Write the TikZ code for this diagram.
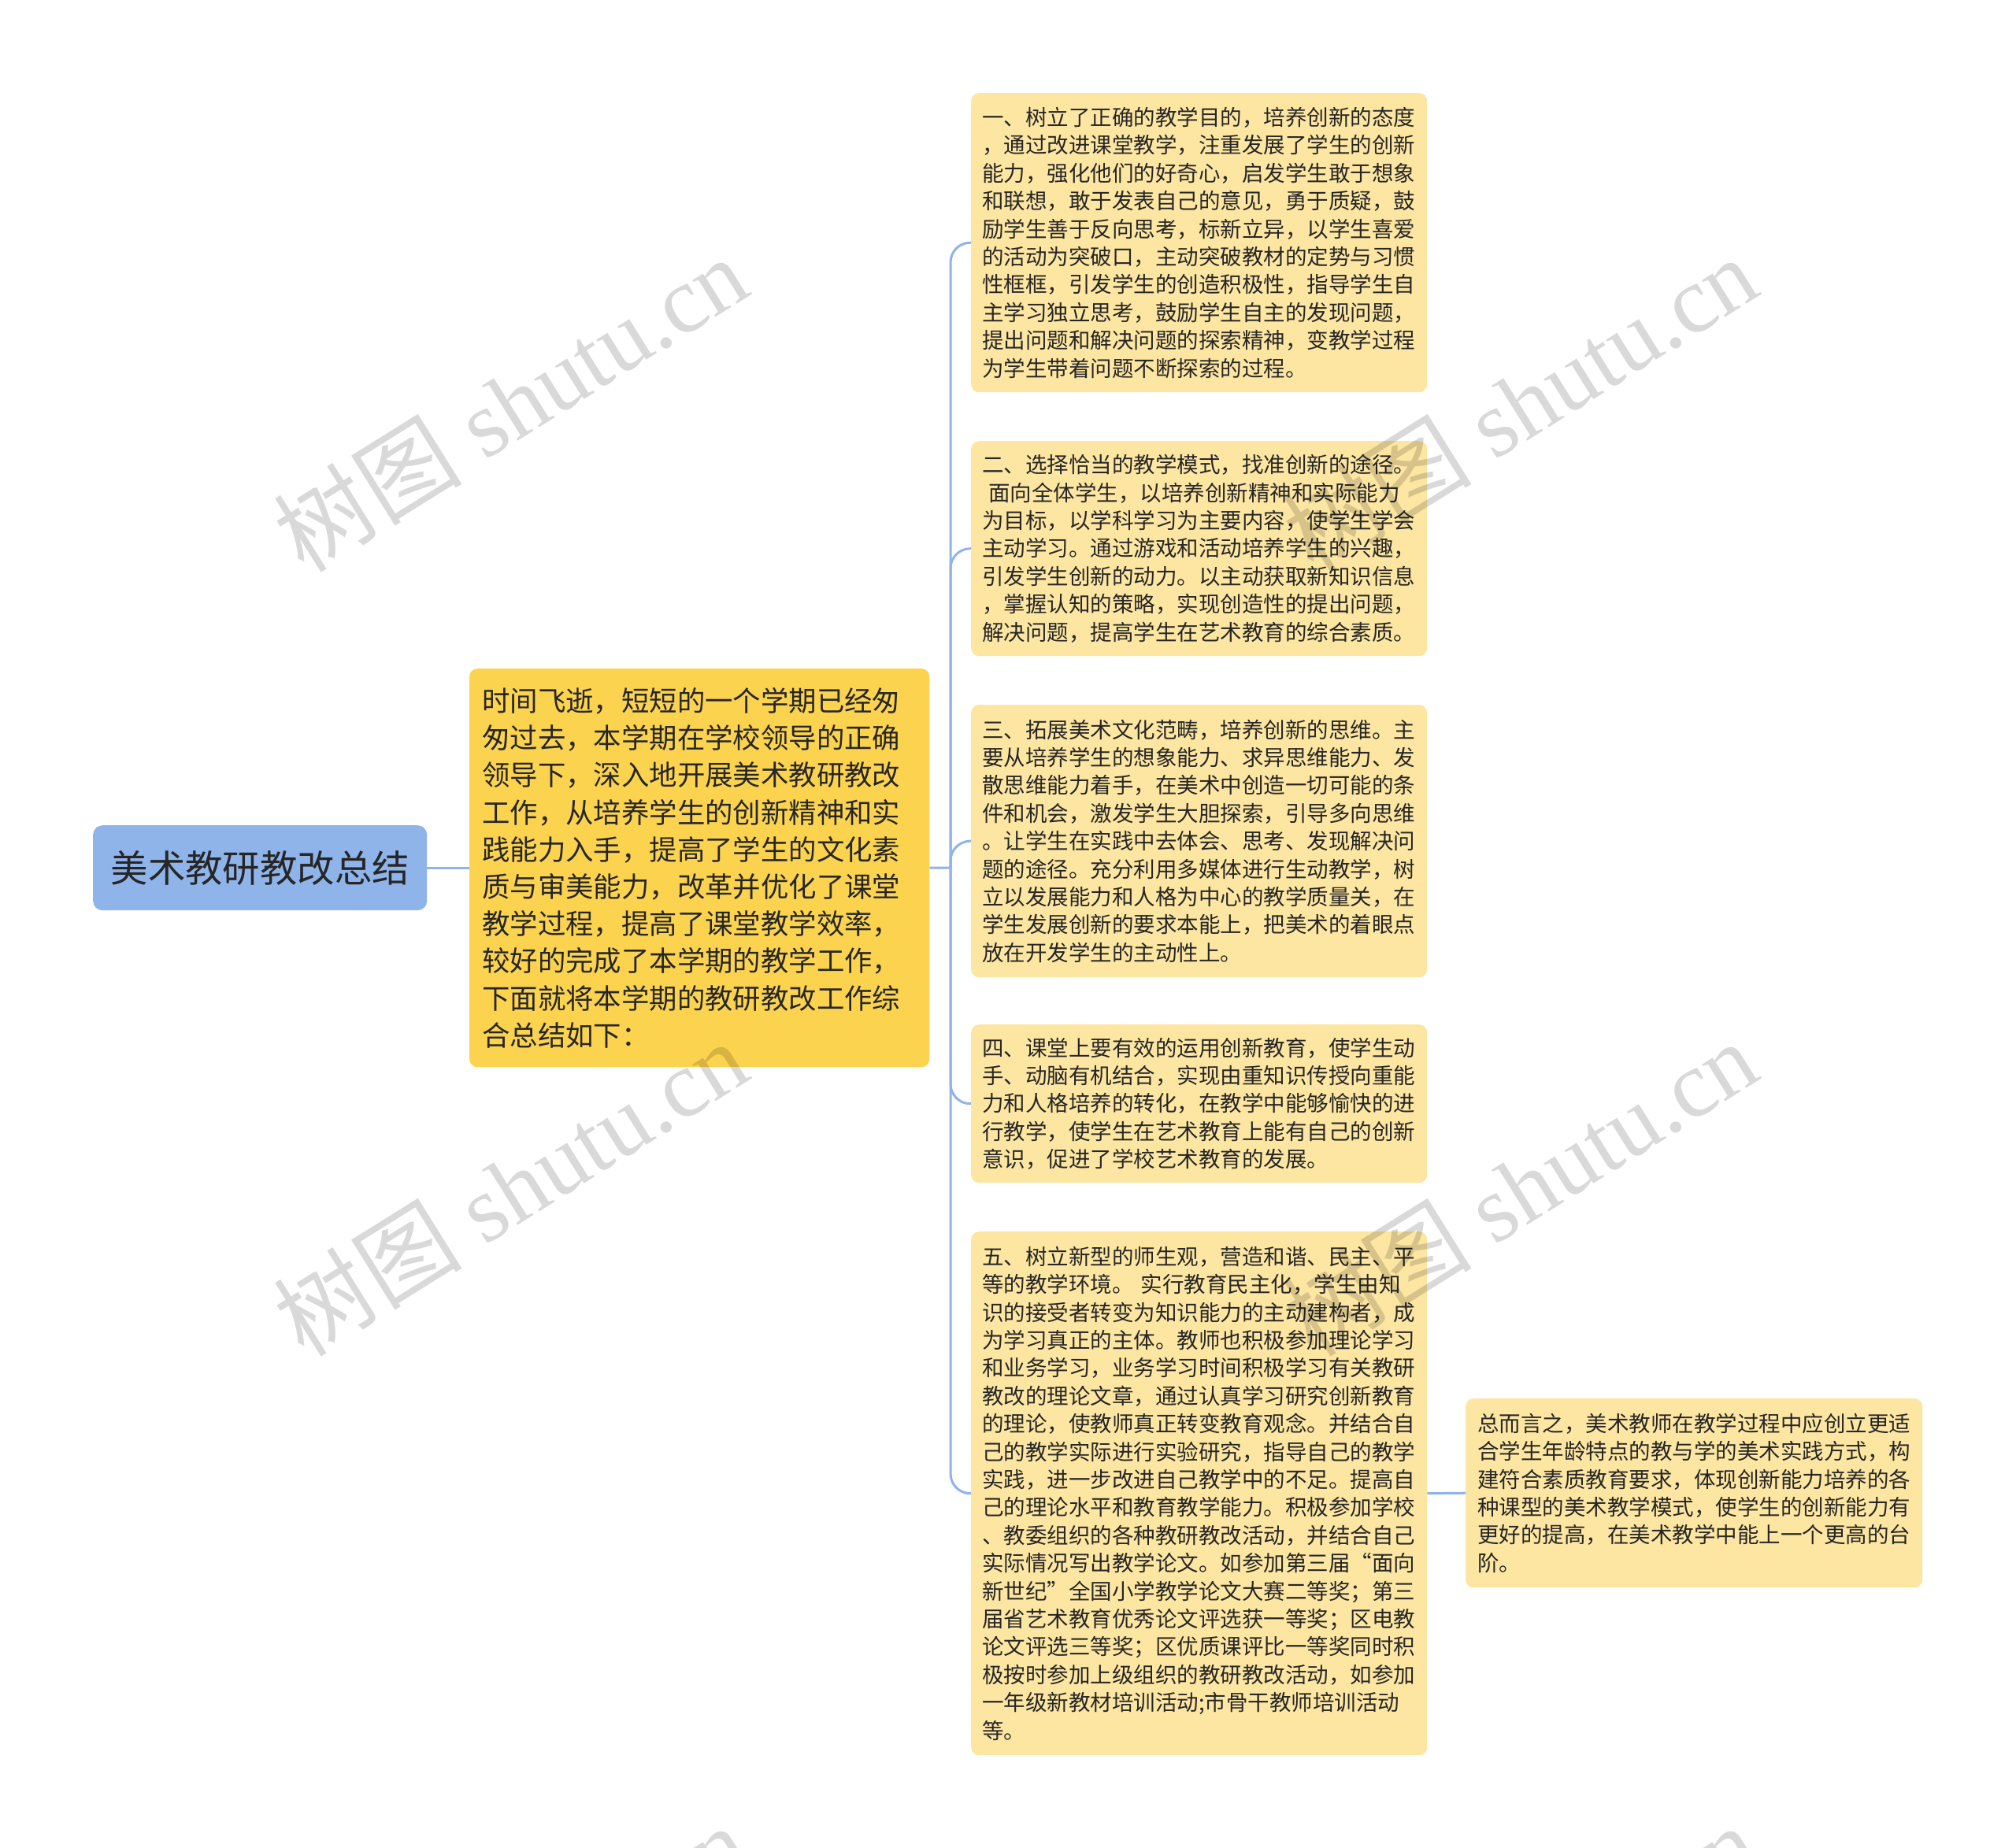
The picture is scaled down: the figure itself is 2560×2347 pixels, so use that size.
\documentclass[tikz,border=0pt]{standalone}
\usepackage{fontspec}
\setmainfont{Noto Sans CJK SC}
\newfontfamily\wmlat{Liberation Serif}
\newfontfamily\wmcjk{Noto Sans CJK SC}
\definecolor{rootc}{HTML}{8EB4EA}
\definecolor{centc}{HTML}{FCD34F}
\definecolor{leafc}{HTML}{FDE6A2}
\definecolor{linec}{HTML}{90B3E8}
\definecolor{txtc}{HTML}{262626}
\begin{document}
\begin{tikzpicture}[x=1pt,y=-1pt,
  rootbox/.style={fill=rootc, rounded corners=12, anchor=north west, minimum width=424, minimum height=108, inner sep=0, text=txtc, font=\fontsize{47.4}{56}\selectfont},
  centbox/.style={fill=centc, rounded corners=10, anchor=north west, minimum width=584, minimum height=506, inner xsep=16, inner ysep=4, text width=552, align=left, text=txtc, font=\fontsize{35.4}{47.2}\selectfont},
  leafbox/.style={fill=leafc, rounded corners=10, anchor=north west, inner xsep=14, inner ysep=4, text width=551, align=left, text=txtc, font=\fontsize{27.5}{35.4}\selectfont},
  conn/.style={draw=linec, line width=3pt},
  wm/.style={rotate=32, text=black, text opacity=0.15, inner sep=0}
]
\useasboundingbox (0,0) rectangle (2560,2347);
\fill[white] (0,0) rectangle (2560,2347);

\node[rootbox] (root) at (118,1048) {美术教研教改总结};

\node[centbox] (cent) at (596,849) {时间飞逝，短短的一个学期已经匆\\
匆过去，本学期在学校领导的正确\\
领导下，深入地开展美术教研教改\\
工作，从培养学生的创新精神和实\\
践能力入手，提高了学生的文化素\\
质与审美能力，改革并优化了课堂\\
教学过程，提高了课堂教学效率，\\
较好的完成了本学期的教学工作，\\
下面就将本学期的教研教改工作综\\
合总结如下：};

\node[leafbox, minimum height=380] (b1) at (1233,118) {一、树立了正确的教学目的，培养创新的态度\\
，通过改进课堂教学，注重发展了学生的创新\\
能力，强化他们的好奇心，启发学生敢于想象\\
和联想，敢于发表自己的意见，勇于质疑，鼓\\
励学生善于反向思考，标新立异，以学生喜爱\\
的活动为突破口，主动突破教材的定势与习惯\\
性框框，引发学生的创造积极性，指导学生自\\
主学习独立思考，鼓励学生自主的发现问题，\\
提出问题和解决问题的探索精神，变教学过程\\
为学生带着问题不断探索的过程。};

\node[leafbox, minimum height=273] (b2) at (1233,560) {二、选择恰当的教学模式，找准创新的途径。\\
\hspace*{0.3em}面向全体学生，以培养创新精神和实际能力\\
为目标，以学科学习为主要内容，使学生学会\\
主动学习。通过游戏和活动培养学生的兴趣，\\
引发学生创新的动力。以主动获取新知识信息\\
，掌握认知的策略，实现创造性的提出问题，\\
解决问题，提高学生在艺术教育的综合素质。};

\node[leafbox, minimum height=346] (b3) at (1233,895) {三、拓展美术文化范畴，培养创新的思维。主\\
要从培养学生的想象能力、求异思维能力、发\\
散思维能力着手，在美术中创造一切可能的条\\
件和机会，激发学生大胆探索，引导多向思维\\
。让学生在实践中去体会、思考、发现解决问\\
题的途径。充分利用多媒体进行生动教学，树\\
立以发展能力和人格为中心的教学质量关，在\\
学生发展创新的要求本能上，把美术的着眼点\\
放在开发学生的主动性上。};

\node[leafbox, minimum height=201] (b4) at (1233,1301) {四、课堂上要有效的运用创新教育，使学生动\\
手、动脑有机结合，实现由重知识传授向重能\\
力和人格培养的转化，在教学中能够愉快的进\\
行教学，使学生在艺术教育上能有自己的创新\\
意识，促进了学校艺术教育的发展。};

\node[leafbox, minimum height=665] (b5) at (1233,1564) {五、树立新型的师生观，营造和谐、民主、平\\
等的教学环境。 实行教育民主化，学生由知\\
识的接受者转变为知识能力的主动建构者，成\\
为学习真正的主体。教师也积极参加理论学习\\
和业务学习，业务学习时间积极学习有关教研\\
教改的理论文章，通过认真学习研究创新教育\\
的理论，使教师真正转变教育观念。并结合自\\
己的教学实际进行实验研究，指导自己的教学\\
实践，进一步改进自己教学中的不足。提高自\\
己的理论水平和教育教学能力。积极参加学校\\
、教委组织的各种教研教改活动，并结合自己\\
实际情况写出教学论文。如参加第三届“面向\\
新世纪”全国小学教学论文大赛二等奖；第三\\
届省艺术教育优秀论文评选获一等奖；区电教\\
论文评选三等奖；区优质课评比一等奖同时积\\
极按时参加上级组织的教研教改活动，如参加\\
一年级新教材培训活动;市骨干教师培训活动\\
等。};

\node[leafbox, minimum height=240, inner xsep=15, text width=550] (b6) at (1861,1776) {总而言之，美术教师在教学过程中应创立更适\\
合学生年龄特点的教与学的美术实践方式，构\\
建符合素质教育要求，体现创新能力培养的各\\
种课型的美术教学模式，使学生的创新能力有\\
更好的提高，在美术教学中能上一个更高的台\\
阶。};

% connectors
\coordinate (tr) at (1207,1102);
\draw[conn] (root.east) -- (cent.west);
\draw[conn] (cent.east) -- (tr);
\foreach \b in {b1,b2,b3,b4,b5}{
  \draw[conn, rounded corners=25] (tr) |- (\b.west);
}
\draw[conn] (b5.east) -- (b6.west);

% watermarks
\foreach \wx/\wy [count=\i] in {648/512, 1930/512, 648/1508, 1930/1508, 648/2504, 1930/2504}{
  \node[wm] (wm\i) at (\wx,\wy) {\fontsize{120}{120}\selectfont\wmcjk 树图\wmlat{} shutu.cn};
}
\end{tikzpicture}
\end{document}
